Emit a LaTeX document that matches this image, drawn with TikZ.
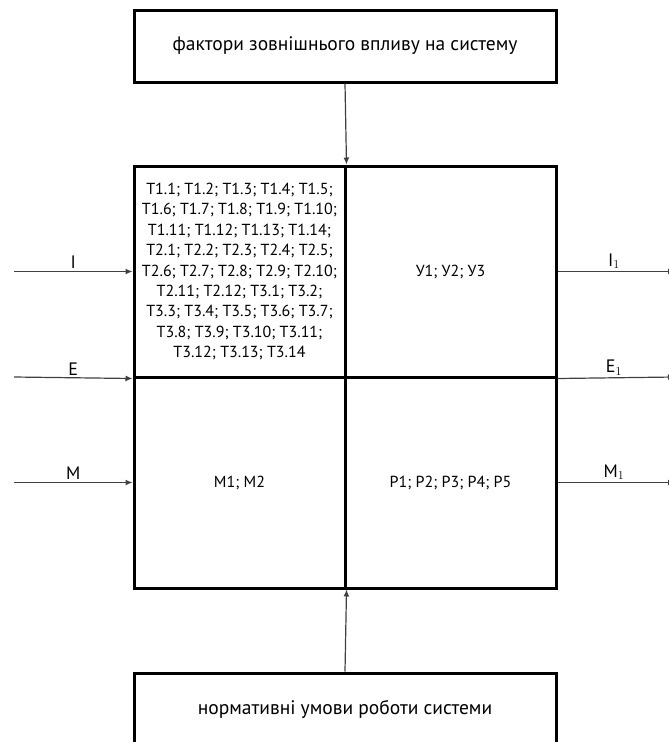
\documentclass[tikz,border=0pt]{standalone}
\usepackage{fontspec}
\setmainfont{PT Sans}
\usetikzlibrary{arrows.meta}

\tikzset{
  cellbox/.style={draw=black, line width=3pt, minimum width=211pt, minimum height=211pt,
                  inner sep=0pt, align=center, font=\fontsize{16}{20.4}\selectfont},
  sidebox/.style={draw=black, line width=3pt, minimum width=422pt, minimum height=72pt,
                  inner sep=0pt, font=\fontsize{19.5}{22}\selectfont},
  flow/.style={-{Latex[length=7pt,width=6pt]}, line width=1.2pt, black!75},
  flowlab/.style={above, inner sep=2pt, black, font=\fontsize{18}{20}\selectfont},
}

\begin{document}
\begin{tikzpicture}[x=1pt, y=-1pt]
\useasboundingbox (0,0) rectangle (669,742);

% blocks
\node[sidebox] (zovn) at (345,46) {фактори зовнішнього впливу на систему};
\node[cellbox] (tl) at (239.5,271.5) {T1.1; T1.2; T1.3; T1.4; T1.5;\\ T1.6; T1.7; T1.8; T1.9; T1.10;\\
  T1.11; T1.12; T1.13; T1.14;\\ T2.1; T2.2; T2.3; T2.4; T2.5;\\ T2.6; T2.7; T2.8; T2.9; T2.10;\\
  T2.11; T2.12; T3.1; T3.2;\\ T3.3; T3.4; T3.5; T3.6; T3.7;\\ T3.8; T3.9; T3.10; T3.11;\\ T3.12; T3.13; T3.14};
\node[cellbox] (tr) at (450.5,271.5) {У1; У2; У3};
\node[cellbox] (bl) at (239.5,482.5) {M1; M2};
\node[cellbox] (br) at (450.5,482.5) {P1; P2; P3; P4; P5};
\node[sidebox] (norm) at (345,709) {нормативні умови роботи системи};

\draw[flow] (zovn.south) -- (tl.north east);
\draw[flow] (norm.north) -- (bl.south east);

% inputs and outputs
\coordinate (inI) at (14,271.5);
\coordinate (inE) at (14,377);
\coordinate (inM) at (14,482.5);
\coordinate (outI) at (675,271.5);
\coordinate (outE) at (675,377);
\coordinate (outM) at (675,482.5);

\draw[flow] (inI) -- (tl.west) node[flowlab, midway] {I};
\draw[flow] (inE) -- (tl.south west) node[flowlab, midway] {E};
\draw[flow] (inM) -- (bl.west) node[flowlab, midway] {M};

\draw[flow] (tr.east) -- (outI) node[flowlab, pos=0.48] {I$_1$};
\draw[flow] (tr.south east) -- (outE) node[flowlab, pos=0.48] {E$_1$};
\draw[flow] (br.east) -- (outM) node[flowlab, pos=0.48] {M$_1$};

\end{tikzpicture}
\end{document}
